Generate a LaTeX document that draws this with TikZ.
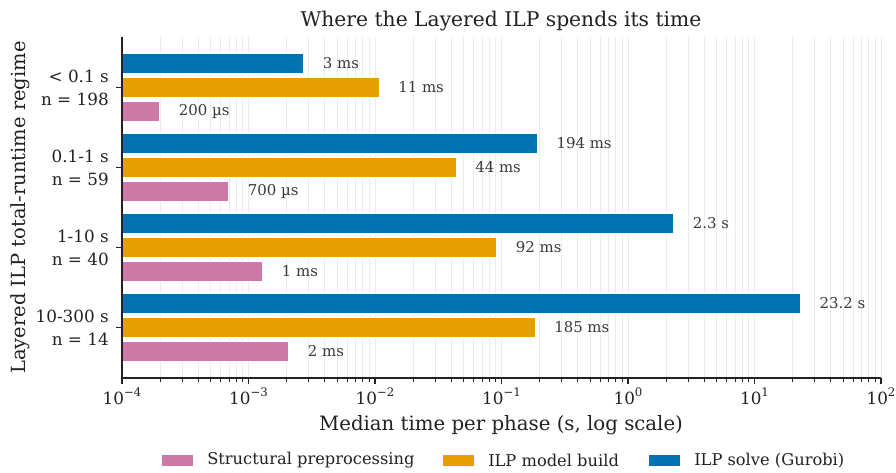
\documentclass[tikz,border=0pt]{standalone}
\usepackage{fontspec}
\setmainfont{DejaVu Serif}
\definecolor{cblue}{HTML}{0072B2}
\definecolor{corange}{HTML}{E69F00}
\definecolor{cpink}{HTML}{CC79A7}
\definecolor{gridc}{HTML}{EBEBEB}
\definecolor{annc}{HTML}{3A3A3A}
\definecolor{axc}{HTML}{222222}
\newcommand\pw[1]{10\raisebox{0.42em}{\fontsize{8.8pt}{9pt}\selectfont #1}}
\begin{document}
\begin{tikzpicture}[x=0.75pt,y=-0.75pt,
  gridline/.style={draw=gridc,line width=0.6pt},
  bar/.style={draw=white,line width=0.4pt},
  ann/.style={anchor=west,text=annc,font=\fontsize{11.2pt}{13pt}\selectfont,inner sep=0pt},
  ticklab/.style={font=\fontsize{12.6pt}{17.25pt}\selectfont,inner sep=0pt,text=axc},
  leglab/.style={anchor=west,font=\fontsize{12.2pt}{14pt}\selectfont,inner sep=0pt,text=axc}]
\useasboundingbox (0,0) rectangle (896,472);
\fill[white] (0,0) rectangle (896,472);
% grid
\foreach \d in {0,...,5}{
  \foreach \m in {1,...,9}{
    \draw[gridline] ({122+126.5*(\d+log10(\m))},37) -- ({122+126.5*(\d+log10(\m))},378);
  }
}
\draw[gridline] (881,37) -- (881,378);
% bars: group centers 87.3 + 80k
\foreach \k/\b/\o/\p in {0/303.7/379/159.7, 1/537.3/456/228.7, 2/673.7/496.7/262.7, 3/800.3/535/288.7}{
  \pgfmathsetmacro\yc{87.3+80*\k}
  \filldraw[bar,fill=cblue] (122,\yc-34.35) rectangle (\b,\yc-13.65);
  \filldraw[bar,fill=corange] (122,\yc-10.35) rectangle (\o,\yc+10.35);
  \filldraw[bar,fill=cpink] (122,\yc+13.65) rectangle (\p,\yc+34.35);
}
% annotations
\node[ann] (a1b) at (322.7,63.3) {3 ms};
\node[ann] (a1o) at (398,87.3) {11 ms};
\node[ann] (a1p) at (178.7,111.3) {200 µs};
\node[ann] (a2b) at (556.3,143.3) {194 ms};
\node[ann] (a2o) at (475,167.3) {44 ms};
\node[ann] (a2p) at (247.7,191.3) {700 µs};
\node[ann] (a3b) at (692.7,223.3) {2.3 s};
\node[ann] (a3o) at (515.7,247.3) {92 ms};
\node[ann] (a3p) at (281.7,271.3) {1 ms};
\node[ann] (a4b) at (819.3,303.3) {23.2 s};
\node[ann] (a4o) at (554,327.3) {185 ms};
\node[ann] (a4p) at (307.7,351.3) {2 ms};
% spines
\draw[axc,line width=0.8pt] (122,37) -- (122,378) -- (881,378);
% x ticks
\foreach \d in {0,...,5}{
  \draw[axc,line width=0.8pt] ({122+126.5*\d},378) -- ++(0,6);
  \foreach \m in {2,...,9}{
    \draw[axc,line width=0.6pt] ({122+126.5*(\d+log10(\m))},378) -- ++(0,3.5);
  }
}
\draw[axc,line width=0.8pt] (881,378) -- ++(0,6);
\node[ticklab,anchor=base] (xt0) at (122,404) {\pw{−4}};
\node[ticklab,anchor=base] (xt1) at (248.5,404) {\pw{−3}};
\node[ticklab,anchor=base] (xt2) at (375,404) {\pw{−2}};
\node[ticklab,anchor=base] (xt3) at (501.5,404) {\pw{−1}};
\node[ticklab,anchor=base] (xt4) at (628,404) {\pw{0}};
\node[ticklab,anchor=base] (xt5) at (754.5,404) {\pw{1}};
\node[ticklab,anchor=base] (xt6) at (881,404) {\pw{2}};
% y ticks
\foreach \k in {0,...,3}{
  \draw[axc,line width=0.8pt] (116,{87.3+80*\k}) -- (122,{87.3+80*\k});
}
\node[ticklab,anchor=east,align=right] (yt0) at (109,88) {< 0.1 s\\n = 198};
\node[ticklab,anchor=east,align=right] (yt1) at (109,168) {0.1-1 s\\n = 59};
\node[ticklab,anchor=east,align=right] (yt2) at (109,248) {1-10 s\\n = 40};
\node[ticklab,anchor=east,align=right] (yt3) at (109,328) {10-300 s\\n = 14};
% labels
\node[anchor=base,font=\fontsize{15.2pt}{18pt}\selectfont,inner sep=0pt,text=axc] (title) at (501,26.7) {Where the Layered ILP spends its time};
\node[anchor=base,font=\fontsize{14.8pt}{17pt}\selectfont,inner sep=0pt,text=axc] (xlab) at (501,430.7) {Median time per phase (s, log scale)};
\node[anchor=base,rotate=90,font=\fontsize{14.6pt}{17pt}\selectfont,inner sep=0pt,text=axc] (ylab) at (25,207.5) {Layered ILP total-runtime regime};
% legend
\fill[cpink] (162,455) rectangle (193,466);
\node[leglab] (l1) at (207,460.5) {Structural preprocessing};
\fill[corange] (443,455) rectangle (474,466);
\node[leglab] (l2) at (488,460.5) {ILP model build};
\fill[cblue] (649,455) rectangle (680,466);
\node[leglab] (l3) at (694,460.5) {ILP solve (Gurobi)};
\end{tikzpicture}
\end{document}
